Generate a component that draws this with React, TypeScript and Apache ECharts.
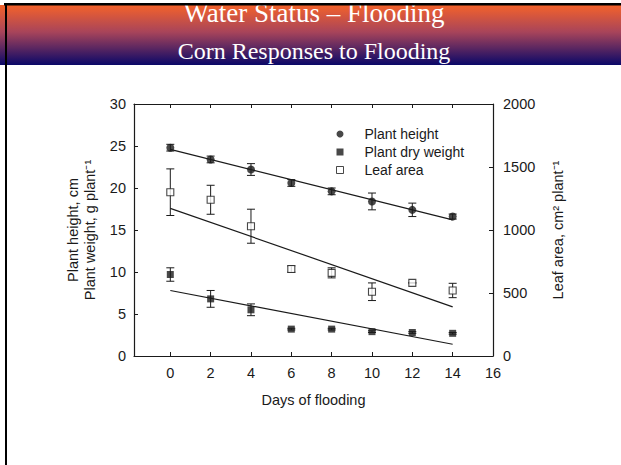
import React, { useEffect, useRef } from "react";
import * as echarts from "echarts";

const days = [0, 2, 4, 6, 8, 10, 12, 14];
const heightVals = [24.8, 23.4, 22.2, 20.6, 19.6, 18.4, 17.4, 16.6];
const heightErr = [0.4, 0.4, 0.7, 0.4, 0.4, 1.0, 0.8, 0.3];
const weightVals = [9.7, 6.8, 5.5, 3.2, 3.2, 2.9, 2.8, 2.7];
const weightErr = [0.8, 1.0, 0.7, 0.1, 0.1, 0.1, 0.1, 0.1];
const leafVals = [1300, 1240, 1030, 690, 660, 510, 580, 520];
const leafErr = [185, 115, 135, 25, 40, 70, 0, 57];
const heightFit = [[0, 24.6], [14, 16.2]];
const weightFit = [[0, 7.8], [14, 1.4]];
const leafFit = [[0, 1172], [14, 390]];
const xTicks = [0, 2, 4, 6, 8, 10, 12, 14, 16];

const FONT = "Liberation Sans, Arial, sans-serif";
const INK = "#1a1a1a";
const LABEL_SIZE = 14.5;

function errData(vals: number[], errs: number[]) {
  return days.map((d, i) => [d, vals[i] - errs[i], vals[i] + errs[i]]);
}

function errSeries(name: string, vals: number[], errs: number[], yAxisIndex: number) {
  return {
    type: "custom",
    name: name + "-err",
    yAxisIndex,
    silent: true,
    data: errData(vals, errs),
    renderItem: (params: any, api: any) => {
      const x = api.value(0);
      const lo = api.coord([x, api.value(1)]);
      const hi = api.coord([x, api.value(2)]);
      const w = 4;
      const style = { stroke: INK, lineWidth: 1 };
      return {
        type: "group",
        children: [
          { type: "line", shape: { x1: lo[0], y1: lo[1], x2: hi[0], y2: hi[1] }, style },
          { type: "line", shape: { x1: lo[0] - w, y1: lo[1], x2: lo[0] + w, y2: lo[1] }, style },
          { type: "line", shape: { x1: hi[0] - w, y1: hi[1], x2: hi[0] + w, y2: hi[1] }, style },
        ],
      };
    },
    z: 3,
  };
}

export default function App() {
  const ref = useRef<HTMLDivElement>(null);
  useEffect(() => {
    if (!ref.current) return;
    const chart = echarts.init(ref.current, undefined, { renderer: "svg" });
    const axisLine = { show: true, onZero: false, lineStyle: { color: INK, width: 1.2 } };
    const tick = { show: true, inside: true, length: 4, lineStyle: { color: INK } };
    chart.setOption({
      animation: false,
      backgroundColor: "#ffffff",
      grid: { left: 134, right: 128, top: 104, bottom: 109 },
      legend: {
        orient: "vertical",
        left: 331,
        top: 122,
        itemWidth: 7,
        itemHeight: 7,
        itemGap: 4,
        textStyle: { fontFamily: FONT, fontSize: 14, lineHeight: 14, color: INK, padding: [0, 0, 0, 16] },
        data: [
          { name: "Plant height", icon: "circle", itemStyle: { color: INK } },
          { name: "Plant dry weight", icon: "rect", itemStyle: { color: INK } },
          { name: "Leaf area", icon: "rect", itemStyle: { color: "#fff", borderColor: INK, borderWidth: 1 } },
        ],
      },
      xAxis: [
        {
          type: "value",
          min: -1.8,
          max: 16,
          name: "Days of flooding",
          nameLocation: "middle",
          nameGap: 36,
          nameTextStyle: { fontFamily: FONT, fontSize: 14.5, color: INK },
          axisLine,
          axisTick: { ...tick, customValues: xTicks },
          axisLabel: { customValues: xTicks, fontFamily: FONT, fontSize: LABEL_SIZE, color: INK, margin: 9 },
          splitLine: { show: false },
        },
        {
          type: "value",
          position: "top",
          min: -1.8,
          max: 16,
          axisLine,
          axisTick: { ...tick, customValues: xTicks },
          axisLabel: { show: false },
          splitLine: { show: false },
        },
      ],
      yAxis: [
        {
          type: "value",
          min: 0,
          max: 30,
          interval: 5,
          name: "Plant height, cm\nPlant weight, g plant\u207B\u00B9",
          nameLocation: "middle",
          nameGap: 36,
          nameTextStyle: { fontFamily: FONT, fontSize: 14.5, color: INK, lineHeight: 17 },
          axisLine,
          axisTick: tick,
          axisLabel: { fontFamily: FONT, fontSize: LABEL_SIZE, color: INK, margin: 8 },
          splitLine: { show: false },
        },
        {
          type: "value",
          min: 0,
          max: 2000,
          interval: 500,
          name: "Leaf area, cm\u00B2 plant\u207B\u00B9",
          nameLocation: "middle",
          nameGap: 57,
          nameRotate: 90,
          nameTextStyle: { fontFamily: FONT, fontSize: 14.5, color: INK },
          axisLine,
          axisTick: tick,
          axisLabel: {
            fontFamily: FONT,
            fontSize: LABEL_SIZE,
            color: INK,
            margin: 10,
            formatter: (v: number) => String(v),
          },
          splitLine: { show: false },
        },
      ],
      series: [
        {
          type: "line",
          name: "heightFit",
          data: heightFit,
          symbol: "none",
          lineStyle: { color: INK, width: 1.2 },
          silent: true,
        },
        {
          type: "line",
          name: "weightFit",
          data: weightFit,
          symbol: "none",
          lineStyle: { color: INK, width: 1.2 },
          silent: true,
        },
        {
          type: "line",
          name: "leafFit",
          yAxisIndex: 1,
          data: leafFit,
          symbol: "none",
          lineStyle: { color: INK, width: 1.2 },
          silent: true,
        },
        errSeries("Plant height", heightVals, heightErr, 0),
        errSeries("Plant dry weight", weightVals, weightErr, 0),
        errSeries("Leaf area", leafVals, leafErr, 1),
        {
          type: "scatter",
          name: "Plant height",
          data: days.map((d, i) => [d, heightVals[i]]),
          symbol: "circle",
          symbolSize: 8,
          itemStyle: { color: INK },
          z: 5,
        },
        {
          type: "scatter",
          name: "Plant dry weight",
          data: days.map((d, i) => [d, weightVals[i]]),
          symbol: "rect",
          symbolSize: 7,
          itemStyle: { color: INK },
          z: 5,
        },
        {
          type: "scatter",
          name: "Leaf area",
          yAxisIndex: 1,
          data: days.map((d, i) => [d, leafVals[i]]),
          symbol: "rect",
          symbolSize: 7,
          itemStyle: { color: "#fff", borderColor: INK, borderWidth: 1.1 },
          z: 5,
        },
      ],
      graphic: [
        {
          type: "rect",
          shape: { x: 0, y: 5, width: 621, height: 60 },
          style: {
            fill: new echarts.graphic.LinearGradient(0, 0, 0, 1, [
              { offset: 0, color: "#f4622a" },
              { offset: 0.45, color: "#a8445a" },
              { offset: 1, color: "#0a0868" },
            ]),
          },
          z: 10,
        },
        {
          type: "text",
          x: 314,
          y: 13,
          style: {
            text: "Water Status \u2013 Flooding",
            fill: "#ffffff",
            font: "27px 'Liberation Serif', 'Times New Roman', serif",
            textAlign: "center",
            textVerticalAlign: "middle",
          },
          z: 11,
        },
        {
          type: "text",
          x: 314,
          y: 51,
          style: {
            text: "Corn Responses to Flooding",
            fill: "#ffffff",
            font: "24px 'Liberation Serif', 'Times New Roman', serif",
            textAlign: "center",
            textVerticalAlign: "middle",
          },
          z: 11,
        },
        {
          type: "rect",
          shape: { x: 0, y: 0, width: 621, height: 3 },
          style: { fill: "#ffffff" },
          z: 12,
        },
        {
          type: "rect",
          shape: { x: 4, y: 3, width: 617, height: 2.5 },
          style: { fill: "#000000" },
          z: 12,
        },
        {
          type: "rect",
          shape: { x: 5, y: 3, width: 2, height: 462 },
          style: { fill: "#000000" },
          z: 12,
        },
      ],
    });
    return () => chart.dispose();
  }, []);
  return (
    <div
      ref={ref}
      style={{ position: "fixed", left: 0, top: 0, width: 621, height: 465 }}
    />
  );
}
